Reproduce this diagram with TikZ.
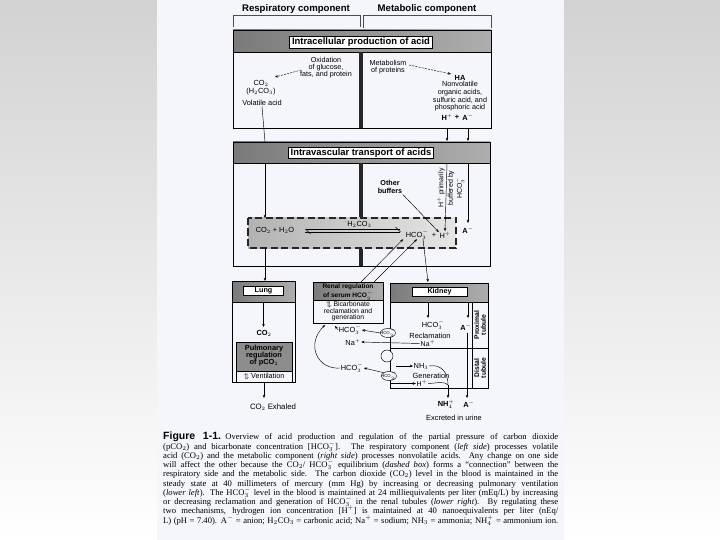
\documentclass[tikz,border=0pt]{standalone}
\usepackage{fontspec}
\setmainfont{Liberation Serif}
\setsansfont{Liberation Sans}
\usetikzlibrary{arrows.meta,calc,shapes.geometric}
\definecolor{pagebg}{RGB}{244,246,252}
\definecolor{bgtop}{RGB}{210,210,210}
\tikzset{
 arr/.style={-{Stealth[length=3.2pt,width=2.6pt]}, line width=0.45pt},
 ln/.style={line width=0.45pt},
 boxline/.style={line width=0.9pt},
 hdr/.style={left color=black!52, right color=black!32},
 titlebox/.style={draw, fill=white, line width=0.7pt, font=\sffamily\bfseries\fontsize{9.4}{10}\selectfont, inner xsep=2.5pt, inner ysep=1.4pt},
 smallbox/.style={draw, fill=white, line width=0.7pt, font=\sffamily\bfseries\fontsize{7.2}{8}\selectfont, minimum height=9pt, inner ysep=0.3pt},
 sm/.style={font=\sffamily\fontsize{7.4}{7.8}\selectfont, inner sep=0.5pt, align=center},
 smb/.style={font=\sffamily\bfseries\fontsize{7.4}{7.8}\selectfont, inner sep=0.5pt, align=center},
 tiny/.style={font=\sffamily\fontsize{4.3}{5}\selectfont, inner sep=0pt},
 bar/.style={line width=4pt, black!85},
 ttl/.style={font=\sffamily\bfseries\fontsize{9.6}{11}\selectfont, inner sep=0pt},
}
\begin{document}
\begin{tikzpicture}[x=1pt,y=-1pt]
\useasboundingbox (0,0) rectangle (720,540);
\shade[top color=bgtop, bottom color=white] (0,0) rectangle (720,540);
\fill[pagebg] (157,0) rectangle (564,540);

% column titles
\node[ttl] (resp) at (296,9) {Respiratory component};
\node[ttl] (meta) at (427,9) {Metabolic component};
\draw[ln, black!70] (233,27) -- (233,15) -- (360,15) -- (360,27);
\draw[ln, black!70] (363,28) -- (363,15) -- (491,15) -- (491,28);

% ---------- box 1
\shade[hdr] (233,30) rectangle (491,52);
\draw[boxline] (233,30) rectangle (491,128);
\draw[boxline] (233,52) -- (491,52);
\draw[bar] (361,52) -- (361,128);
\node[titlebox] (intra) at (361,42.5) {Intracellular production of acid};

\node[sm, font=\sffamily\fontsize{7.2}{6.4}\selectfont] (oxid) at (326,68) {Oxidation\\of glucose,\\fats, and protein};
\node[sm] (co2a) at (261,83) {CO$_2$};
\node[sm] (h2co3a) at (261,92) {(H$_2$CO$_3$)};
\node[sm] (volatile) at (262,103) {Volatile acid};
\coordinate (oxtip) at (275,77);
\draw[arr, dashed, dash pattern=on 2pt off 1.2pt] ($(oxid.west)+(2,2)$) -- (oxtip);

\node[sm, font=\sffamily\fontsize{7.2}{6.6}\selectfont] (metab) at (388,67) {Metabolism\\of proteins};
\coordinate (hatip) at (451,74);
\draw[arr, dashed, dash pattern=on 2pt off 1.2pt] ($(metab.east)+(2,-2)$) -- (hatip);
\node[smb] (ha) at (460,78) {HA};
\node[sm, font=\sffamily\fontsize{7.2}{7.6}\selectfont] (nonvol) at (460,96.5) {Nonvolatile\\organic acids,\\sulfuric acid, and\\phosphoric acid};
\node[smb] (hplus) at (447,117) {H$^+$};
\node[smb] (plus1) at (457,117) {+};
\node[smb] (aminus) at (468,117) {A$^-$};

% ---------- box 2
\shade[hdr] (233,142) rectangle (490,163);
\draw[boxline] (233,142) rectangle (490,266);
\draw[boxline] (233,163) -- (490,163);
\draw[bar] (361,163) -- (361,218);
\draw[bar] (361,248) -- (361,266);
\node[titlebox] (intrav) at (361,153) {Intravascular transport of acids};

% dashed equilibrium box
\path[left color=black!30, right color=black!10] (248,218) rectangle (456,248);
\draw[line width=1.7pt, dash pattern=on 7pt off 3.5pt, black!85] (248,218) rectangle (456,248);
\node[sm] (co2b) at (275,230) {CO$_2$ + H$_2$O};
\node[sm] (h2co3b) at (358,224) {$^{\cdot}$H$_2$CO$_3$};
\node[sm] (hco3b) at (417,235) {HCO$_3^-$};
\node[sm] (plus2) at (434,235) {+};
\node[sm] (hplusb) at (445,235) {H$^+$};
\draw[ln, -{Straight Barb[left,length=5pt]}] (400,229) -- (305,229);
\draw[ln, -{Straight Barb[left,length=5pt]}] (305,232) -- (401,232);

% connectors top -> box2
\draw[ln] (volatile.south) -- (265,142);
\draw[arr] (265,163) -- (265,218);
\draw[arr] (447,128) -- (447,141);
\draw[arr] (468,128) -- (468,141);
\draw[arr] (447,163) -- (hplusb.north);
\draw[arr] (468,163) -- (468,223);
\node[smb] (aminusb) at (468,230) {A$^-$};

\node[smb, font=\sffamily\bfseries\fontsize{7.2}{8.5}\selectfont] (other) at (390,187) {Other\\buffers};
\draw[arr] (other.south east) -- ($(hplusb.north west)+(0,1)$);
\node[sm, rotate=90, font=\sffamily\fontsize{7}{7}\selectfont] (hprim) at (441,188) {H$^+$ primarily};
\node[sm, rotate=90, font=\sffamily\fontsize{7}{7}\selectfont] (buff) at (456,188) {buffered by\\HCO$_3^-$};

% ---------- Lung
\shade[hdr] (232,281) rectangle (295,302);
\draw[boxline] (232,281) rectangle (295,382);
\draw[boxline] (232,302) -- (295,302);
\node[smallbox, minimum width=40pt] (lung) at (263.5,290.5) {Lung};
\draw[arr] (263.5,302) -- (263.5,327);
\node[smb] (co2c) at (264,333) {CO$_2$};
\fill[black!45] (236,342) rectangle (292,371);
\draw[boxline] (236,342) rectangle (292,382);
\draw[boxline] (236,371) -- (292,371);
\node[smb, font=\sffamily\bfseries\fontsize{7.4}{7}\selectfont] (pulm) at (264,356) {Pulmonary\\regulation\\of pCO$_2$};
\node[sm, font=\sffamily\fontsize{7.2}{7.6}\selectfont] (vent) at (264,376.5) {$\uparrow\!\!\downarrow$ Ventilation};
\draw[ln] (265,248) -- (265,266);
\draw[arr] (265,266) -- (265,281);
\draw[arr] (264,382) -- (264,398);
\node[sm, font=\sffamily\fontsize{7.8}{8}\selectfont] (exhaled) at (273,407) {CO$_2$ Exhaled};

% ---------- Renal regulation
\shade[hdr] (313,282) rectangle (383,300);
\draw[boxline] (313,282) rectangle (383,323);
\draw[boxline] (313,300) -- (383,300);
\node[smb, font=\sffamily\bfseries\fontsize{6.5}{6.6}\selectfont, inner sep=0pt] (renal) at (348,292) {Renal regulation\\of serum HCO$_3^-$};
\node[sm, font=\sffamily\fontsize{6.8}{6.6}\selectfont] (bicarb) at (348,311.5) {$\uparrow\!\!\downarrow$ Bicarbonate\\reclamation and\\generation};
\draw[arr] (361,282) -- ($(hco3b.south west)+(-2,-1)$);
\draw[arr] (374,282) -- ($(hco3b.south)+(0,-1)$);
\draw[arr] ($(hco3b.south)+(6,-1)$) -- (428,282);

% ---------- Kidney
\shade[hdr] (390,283) rectangle (488,302);
\draw[boxline] (390,283) rectangle (488,388);
\draw[boxline] (390,302) -- (488,302);
\draw[ln] (472,302) -- (472,388);
\draw[ln] (390,348) -- (488,348);
\node[smallbox, minimum width=55pt] (kidney) at (439.5,291.5) {Kidney};
\node[smb, rotate=90, font=\sffamily\bfseries\fontsize{6.8}{6.8}\selectfont] (prox) at (480,325) {Proximal\\tubule};
\node[smb, rotate=90, font=\sffamily\bfseries\fontsize{6.8}{6.8}\selectfont] (dist) at (480,368) {Distal\\tubule};

% transporters on the membrane
\node[draw, ellipse, fill=pagebg, ln, minimum width=15pt, minimum height=9pt, inner sep=0pt] (ell1) at (388,333) {};
\node[tiny] (ell1t) at (ell1) {HCO$_3^-$};
\node[draw, circle, fill=pagebg, ln, minimum size=12pt, inner sep=0pt] (circ) at (387,356) {};
\node[draw, ellipse, fill=pagebg, ln, minimum width=15pt, minimum height=9pt, inner sep=0pt] (ell2) at (389,376) {};
\node[tiny] (ell2t) at (ell2) {HCO$_3^-$};

% proximal
\draw[arr] (428,302) -- (428,318);
\node[sm] (hco3k) at (433,325) {HCO$_3^-$};
\node[sm] (recl) at (430,336) {Reclamation};
\node[sm, font=\sffamily\fontsize{7}{7}\selectfont] (nak) at (428,343.5) {Na$^+$};
\node[sm] (hco3l1) at (350,330) {HCO$_3^-$};
\node[sm] (nal) at (353,342) {Na$^+$};
\draw[arr] (ell1.west) -- (hco3l1.east);
\draw[arr] (nak.west) -- (nal.east);
\draw[arr] (hco3l1.west) -- (335,326);
\draw[arr] (468,302) -- (468,318);
\node[smb] (aminusk) at (466,327) {A$^-$};

% distal
\node[sm] (nh3) at (421,366) {NH$_3$};
\node[sm] (gen) at (431,376) {Generation};
\node[sm, font=\sffamily\fontsize{7}{7}\selectfont] (hk) at (422,383.5) {H$^+$};
\node[sm] (hco3l2) at (352,368) {HCO$_3^-$};
\draw[arr] (ell2.north west) -- (hco3l2.east);
\draw[arr] (396,366) -- (nh3.west);
\draw[arr] (390,383.5) -- (hk.west);
\coordinate (join) at (448,385);
\draw[ln] (nh3.east) .. controls (441,364) and (448,372) .. (join);
\draw[ln] (hk.east) .. controls (438,383) and (445,381) .. (join);
\draw[arr] (join) -- (448,398);
\draw[arr] (hco3l2.west) .. controls (318,370) and (305,345) .. (325,325);
\draw[arr] (467,333) -- (467,398);

\node[smb] (nh4) at (446,404.5) {NH$_4^+$};
\node[smb] (aminusu) at (469,404.5) {A$^-$};
\node[sm] (urine) at (454,418) {Excreted in urine};

% ---------- caption
\node[anchor=north west, inner sep=0pt] (caption) at (163,432) {\parbox[t]{395pt}{\fontsize{8.6}{9.25}\selectfont\lineskip=0pt\lineskiplimit=-20pt\parfillskip=0pt\parindent=0pt
{\sffamily\bfseries\fontsize{10.5}{9.25}\selectfont Figure 1-1.}\enspace Overview of acid production and regulation of the partial pressure of carbon dioxide\linebreak
(pCO$_2$) and bicarbonate concentration [HCO$_3^-$]. The respiratory component (\textit{left side}) processes volatile\linebreak
acid (CO$_2$) and the metabolic component (\textit{right side}) processes nonvolatile acids. Any change on one side\linebreak
will affect the other because the CO$_2$/ HCO$_3^-$ equilibrium (\textit{dashed box}) forms a ``connection'' between the\linebreak
respiratory side and the metabolic side. The carbon dioxide (CO$_2$) level in the blood is maintained in the\linebreak
steady state at 40 millimeters of mercury (mm Hg) by increasing or decreasing pulmonary ventilation\linebreak
(\textit{lower left}). The HCO$_3^-$ level in the blood is maintained at 24 milliequivalents per liter (mEq/L) by increasing\linebreak
or decreasing reclamation and generation of HCO$_3^-$ in the renal tubules (\textit{lower right}). By regulating these\linebreak
two mechanisms, hydrogen ion concentration [H$^+$] is maintained at 40 nanoequivalents per liter (nEq/\linebreak
L) (pH = 7.40). A$^-$ = anion; H$_2$CO$_3$ = carbonic acid; Na$^+$ = sodium; NH$_3$ = ammonia; NH$_4^+$ = ammonium ion.}};
\end{tikzpicture}
\end{document}
